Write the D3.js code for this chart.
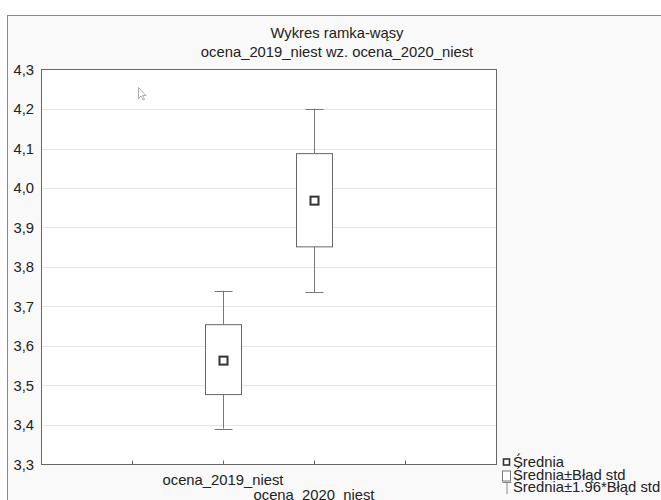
<!DOCTYPE html>
<html><head><meta charset="utf-8">
<script src="https://cdn.jsdelivr.net/npm/d3@7"></script>
<style>
html,body{margin:0;padding:0;background:#fff;}
svg{display:block;font-family:"Liberation Sans",Arial,sans-serif;}
</style></head>
<body>
<script>
const categories = ["ocena_2019_niest", "ocena_2020_niest"];
const catPos = [2, 3];
const means = [3.563, 3.968];
const boxLow = [3.477, 3.851];
const boxHigh = [3.654, 4.087];
const whiskLow = [3.391, 3.737];
const whiskHigh = [3.740, 4.201];
const yTicks = [3.3, 3.4, 3.5, 3.6, 3.7, 3.8, 3.9, 4.0, 4.1, 4.2, 4.3];
const xTicks = [1, 2, 3, 4];
const titleLines = ["Wykres ramka-wąsy", "ocena_2019_niest wz. ocena_2020_niest"];
const legendItems = ["Średnia", "Średnia±Błąd std", "Średnia±1.96*Błąd std"];

const W = 661, H = 500;
const FS = 14.8;
const m = {left: 41, top: 69.5, right: 496, bottom: 464.5};
const svg = d3.select("body").append("svg").attr("width", W).attr("height", H);

// window frame
svg.append("rect").attr("x", 7.5).attr("y", 15.5).attr("width", 700).attr("height", 520)
  .attr("fill", "#f9f9f9").attr("stroke", "#8a8a8a").attr("stroke-width", 1);

const x = d3.scaleLinear().domain([0, 5]).range([m.left, m.right]);
const y = d3.scaleLinear().domain([3.3, 4.3]).range([m.bottom, m.top]);

// plot background
svg.append("rect").attr("x", m.left).attr("y", m.top).attr("width", m.right - m.left)
  .attr("height", m.bottom - m.top).attr("fill", "#fff");

// gridlines
svg.append("g").selectAll("line").data(yTicks.slice(1, -1)).join("line")
  .attr("x1", m.left).attr("x2", m.right)
  .attr("y1", d => Math.round(y(d)) + 0.5).attr("y2", d => Math.round(y(d)) + 0.5)
  .attr("stroke", "#e4e4e4").attr("stroke-width", 1);

// plot border
svg.append("rect").attr("x", m.left + 0.5).attr("y", m.top).attr("width", m.right - m.left)
  .attr("height", m.bottom - m.top).attr("fill", "none").attr("stroke", "#666");

// y axis
const yAxis = svg.append("g").attr("transform", `translate(${m.left},0)`)
  .call(d3.axisLeft(y).tickValues(yTicks).tickSize(0).tickPadding(7)
    .tickFormat(d => d3.format(".1f")(d).replace(".", ",")));
yAxis.select(".domain").remove();
yAxis.selectAll("text").attr("font-size", FS).attr("fill", "#222")
  .attr("font-family", "Liberation Sans, Arial, sans-serif");

// x axis ticks (inner)
const xAxis = svg.append("g").attr("transform", `translate(0,${m.bottom})`)
  .call(d3.axisTop(x).tickValues(xTicks).tickSize(4).tickFormat(""));
xAxis.select(".domain").remove();
xAxis.selectAll("line").attr("stroke", "#666");

// x labels (staggered)
svg.append("g").selectAll("text").data(categories).join("text")
  .attr("x", (d, i) => x(catPos[i]))
  .attr("y", (d, i) => i % 2 === 0 ? 485 : 500)
  .attr("text-anchor", "middle").attr("font-size", FS).attr("fill", "#222")
  .text(d => d);

// boxes
const bw = 36, cw = 18, ms = 8;
const g = svg.append("g");
categories.forEach((c, i) => {
  const cx = Math.round(x(catPos[i])) + 0.5;
  g.append("line").attr("x1", cx).attr("x2", cx).attr("y1", y(whiskHigh[i])).attr("y2", y(boxHigh[i]))
    .attr("stroke", "#777");
  g.append("line").attr("x1", cx).attr("x2", cx).attr("y1", y(boxLow[i])).attr("y2", y(whiskLow[i]))
    .attr("stroke", "#777");
  [whiskHigh[i], whiskLow[i]].forEach(v => {
    g.append("line").attr("x1", cx - cw / 2).attr("x2", cx + cw / 2)
      .attr("y1", Math.round(y(v)) + 0.5).attr("y2", Math.round(y(v)) + 0.5).attr("stroke", "#777");
  });
  g.append("rect").attr("x", cx - bw / 2).attr("y", y(boxHigh[i]))
    .attr("width", bw).attr("height", y(boxLow[i]) - y(boxHigh[i]))
    .attr("fill", "#fff").attr("stroke", "#666");
  g.append("rect").attr("x", cx - ms / 2).attr("y", y(means[i]) - ms / 2)
    .attr("width", ms).attr("height", ms)
    .attr("fill", "#fff").attr("stroke", "#333").attr("stroke-width", 2);
});

// title
svg.append("g").selectAll("text").data(titleLines).join("text")
  .attr("x", 337).attr("y", (d, i) => 37.5 + i * 19)
  .attr("text-anchor", "middle").attr("font-size", FS).attr("fill", "#222")
  .text(d => d);

// legend
const lg = svg.append("g");
const lx = 502, ly = [467, 479.5, 492];
lg.append("rect").attr("x", lx + 1.5).attr("y", ly[0] - 8).attr("width", 6).attr("height", 6)
  .attr("fill", "#fff").attr("stroke", "#333").attr("stroke-width", 1.6);
lg.append("rect").attr("x", lx + 0.5).attr("y", ly[1] - 8.5).attr("width", 8).attr("height", 10)
  .attr("fill", "#fff").attr("stroke", "#777");
lg.append("line").attr("x1", lx + 0.5).attr("x2", lx + 9.5).attr("y1", ly[2] - 9.5).attr("y2", ly[2] - 9.5)
  .attr("stroke", "#888");
lg.append("line").attr("x1", lx + 5).attr("x2", lx + 5).attr("y1", ly[2] - 9.5).attr("y2", ly[2] + 2)
  .attr("stroke", "#888");
lg.selectAll("text.l").data(legendItems).join("text").attr("class", "l")
  .attr("x", 513).attr("y", (d, i) => ly[i]).attr("font-size", FS).attr("fill", "#222")
  .text(d => d);

// mouse cursor artifact
svg.append("path").attr("d", "M138.5,87.5 L138.5,98.5 L141,96 L143,100 L144.5,99.3 L142.6,95.5 L146,95.5 Z")
  .attr("fill", "#fff").attr("stroke", "#999").attr("stroke-width", 0.8);
</script>
</body></html>
